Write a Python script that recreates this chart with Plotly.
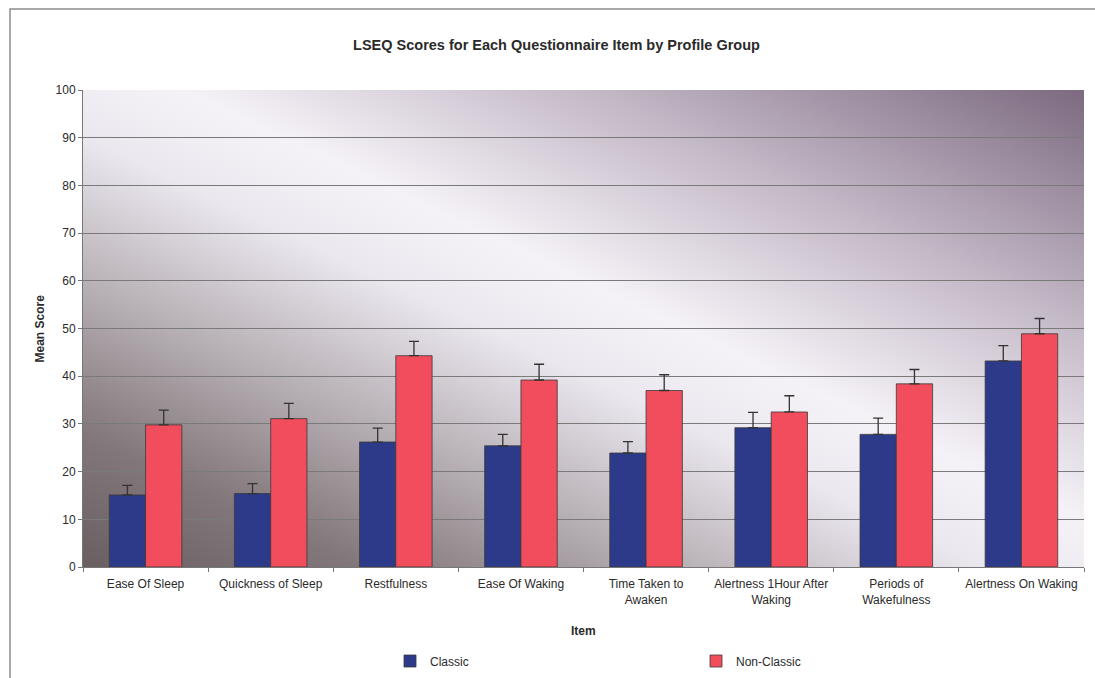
import base64
import plotly.graph_objects as go

# LSEQ questionnaire items
items = [
    "Ease Of Sleep",
    "Quickness of Sleep",
    "Restfulness",
    "Ease Of Waking",
    "Time Taken to<br>Awaken",
    "Alertness 1Hour After<br>Waking",
    "Periods of<br>Wakefulness",
    "Alertness On Waking",
]

# Mean scores and error (upper bar only) per profile group
classic_mean = [15.1, 15.4, 26.2, 25.4, 23.9, 29.2, 27.8, 43.2]
classic_err = [2.0, 2.1, 2.9, 2.4, 2.4, 3.2, 3.4, 3.2]
nonclassic_mean = [29.8, 31.1, 44.3, 39.2, 37.0, 32.5, 38.4, 48.9]
nonclassic_err = [3.1, 3.2, 3.0, 3.3, 3.3, 3.4, 3.0, 3.2]

y_ticks = [0, 10, 20, 30, 40, 50, 60, 70, 80, 90, 100]

FONT = "Liberation Sans, Arial, sans-serif"
TXT = "#2a2a2a"

# Diagonal gradient fill for the plot area (dark corners bottom-left / top-right)
svg = """<svg xmlns='http://www.w3.org/2000/svg' width='1000' height='478' preserveAspectRatio='none' viewBox='0 0 1000 478'>
<defs><linearGradient id='g' x1='0' y1='1' x2='1' y2='0'>
<stop offset='0' stop-color='#695e60'/>
<stop offset='0.14' stop-color='#82777a'/>
<stop offset='0.3' stop-color='#b8b1b6'/>
<stop offset='0.45' stop-color='#ebe7ef'/>
<stop offset='0.55' stop-color='#f5f2f7'/>
<stop offset='0.75' stop-color='#c4b9c7'/>
<stop offset='1' stop-color='#7c6a80'/>
</linearGradient></defs>
<rect width='1000' height='478' fill='url(#g)'/></svg>"""
bg_uri = "data:image/svg+xml;base64," + base64.b64encode(svg.encode()).decode()

fig = go.Figure()
fig.add_trace(go.Bar(
    name="Classic", x=items, y=classic_mean,
    marker=dict(color="#2d3a89", line=dict(color="#3a3a3a", width=0.8)),
    error_y=dict(type="data", array=classic_err, arrayminus=[0] * len(items),
                 symmetric=False, color="#333333", thickness=1.3, width=5),
))
fig.add_trace(go.Bar(
    name="Non-Classic", x=items, y=nonclassic_mean,
    marker=dict(color="#f24d5d", line=dict(color="#3a3a3a", width=0.8)),
    error_y=dict(type="data", array=nonclassic_err, arrayminus=[0] * len(items),
                 symmetric=False, color="#333333", thickness=1.3, width=5),
))

W, H = 1095, 678
ML, MR, MT, MB = 83, 11, 90, 111
pw, ph = W - ML - MR, H - MT - MB


def px_x(p):
    return (p - ML) / pw


def px_y(p):
    return (H - MB - p) / ph


fig.update_layout(
    width=W, height=H,
    margin=dict(l=ML, r=MR, t=MT, b=MB),
    paper_bgcolor="white",
    plot_bgcolor="rgba(0,0,0,0)",
    font=dict(family=FONT, size=12, color=TXT),
    barmode="group",
    bargap=0.42,
    bargroupgap=0,
    title=dict(
        text="<b>LSEQ Scores for Each Questionnaire Item by Profile Group</b>",
        xref="container", x=556.5 / W, xanchor="center",
        yref="container", y=1 - 45 / H, yanchor="middle",
        font=dict(size=14.5, color=TXT, family=FONT),
    ),
    xaxis=dict(
        tickson="boundaries", ticks="outside", ticklen=4, tickcolor="#777777",
        showline=True, linecolor="#777777", linewidth=1,
        showgrid=False, tickfont=dict(size=12, color=TXT),
        ticklabelstandoff=6,
    ),
    yaxis=dict(
        range=[0, 100], tickvals=y_ticks, ticks="outside", ticklen=4,
        tickcolor="#777777", showline=True, linecolor="#777777", linewidth=1,
        showgrid=True, gridcolor="#7a7a7a", gridwidth=1, zeroline=False,
        tickfont=dict(size=12, color=TXT),
    ),
    legend=dict(
        orientation="h",
        xref="container", x=390 / W, xanchor="left",
        yref="container", y=1 - 661 / H, yanchor="middle",
        entrywidth=261, entrywidthmode="pixels", bgcolor="rgba(0,0,0,0)",
        font=dict(size=12, color=TXT), itemwidth=30, traceorder="normal",
    ),
    images=[dict(
        source=bg_uri, xref="paper", yref="paper", x=0, y=1,
        sizex=1, sizey=1, xanchor="left", yanchor="top",
        sizing="stretch", layer="below",
    )],
    annotations=[
        dict(text="<b>Mean Score</b>", xref="paper", yref="paper",
             x=px_x(39), y=0.5, textangle=-90, showarrow=False,
             font=dict(size=12, color=TXT), xanchor="center", yanchor="middle"),
        dict(text="<b>Item</b>", xref="paper", yref="paper",
             x=px_x(583), y=px_y(631), showarrow=False,
             font=dict(size=12, color=TXT), xanchor="center", yanchor="middle"),
    ],
    shapes=[dict(
        type="rect", xref="paper", yref="paper",
        x0=px_x(10), y0=px_y(700), x1=px_x(1120), y1=px_y(9),
        line=dict(color="#8c8c8c", width=1.5), fillcolor="rgba(0,0,0,0)", layer="below",
    )],
)

fig.write_html("out.html")
